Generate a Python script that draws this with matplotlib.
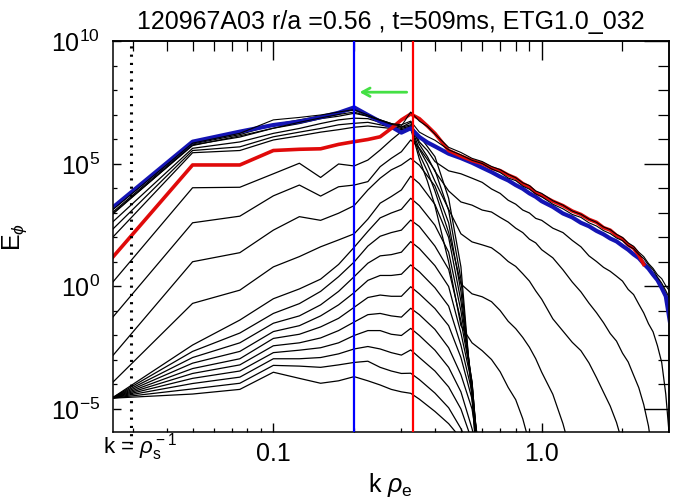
import numpy as np
import matplotlib
matplotlib.use("Agg")
import matplotlib.pyplot as plt
from matplotlib.ticker import FixedLocator, NullFormatter

plt.rcParams.update({
    "font.family": ["Liberation Sans", "DejaVu Sans"],
    "mathtext.fontset": "custom",
    "mathtext.rm": "Liberation Sans",
    "mathtext.it": "Liberation Sans:italic",
    "mathtext.bf": "Liberation Sans:bold",
    "axes.linewidth": 1.1,
})

nan = np.nan

# k rho_e grids (simulation modes at low k, sampled points at high k)
k_low = [0.025, 0.05, 0.075, 0.1, 0.125, 0.15, 0.175, 0.2, 0.225, 0.25, 0.275, 0.3, 0.325]
k_mid = [0.35, 0.4, 0.45, 0.5, 0.55, 0.6]
k_high = [0.35, 0.375, 0.4, 0.45, 0.5, 0.55, 0.6, 0.65, 0.7, 0.75, 0.8, 0.85, 0.9, 0.95,
          1.0, 1.1, 1.2, 1.3, 1.4, 1.5, 1.6, 1.7, 1.8, 1.9, 2.0, 2.1, 2.2, 2.3, 2.4, 2.5,
          2.6, 2.7, 2.8, 2.9, 3.0]

# log10(E_phi) of the early (growth phase) spectra, on k_low + k_mid
c00 = [-4.56, -4.39, -4.2, -3.5, -3.75, -3.95, -3.85, -3.68, -3.85, -4.02, -4.2, -4.3, -4.36,
       -4.6, -5.1, -5.6, -6.2, nan, nan]
c01 = [-4.56, -4.18, -3.95, -3.22, -3.25, -3.3, -3.2, -3.1, -3.05, -3.3, -3.45, -3.55, -3.54,
       -3.8, -4.35, -4.95, -5.8, -6.8, nan]
c02 = [-4.56, -3.96, -3.7, -2.95, -2.95, -2.9, -2.75, -2.55, -2.45, -2.55, -2.7, -2.8, -2.59,
       -2.9, -3.45, -4.1, -5.0, -6.3, nan]
c03 = [-4.56, -3.75, -3.45, -2.7, -2.6, -2.5, -2.3, -2.0, -1.8, -1.8, -1.95, -2.0, -1.71,
       -2.0, -2.6, -3.3, -4.3, -5.8, -7.5]
c04 = [-4.56, -3.55, -3.2, -2.42, -2.3, -2.1, -1.8, -1.45, -1.15, -1.1, -1.2, -1.25, -0.89,
       -1.15, -1.75, -2.5, -3.6, -5.0, -7.5]
c05 = [-4.56, -3.35, -2.95, -2.12, -1.95, -1.65, -1.3, -0.85, -0.45, -0.35, -0.4, -0.4, -0.01,
       -0.3, -0.9, -1.6, -2.9, -4.6, -7.5]
c06 = [-4.56, -3.13, -2.65, -1.84, -1.6, -1.2, -0.75, -0.25, 0.25, 0.45, 0.45, 0.5, 0.88,
       0.6, -0.05, -0.8, -2.4, -4.3, -8.0]
c07 = [-4.56, -2.9, -2.3, -1.5, -1.2, -0.75, -0.2, 0.4, 0.95, 1.25, 1.3, 1.4, 1.83,
       1.55, 0.85, 0.0, -1.9, -4.0, -8.5]
c08 = [-4.56, -2.65, -1.9, -1.1, -0.7, -0.2, 0.4, 1.0, 1.65, 2.05, 2.2, 2.3, 2.71,
       2.45, 1.65, 0.7, -1.4, -3.9, -9.0]
c09 = [-4.56, -2.39, -1.37, -0.5, -0.1, 0.3, 0.9, 1.6, 2.25, 2.8, 3.0, 3.15, 3.6,
       3.3, 2.5, 1.4, -1.0, -3.9, -9.0]
c10 = [-3.95, -0.69, -0.15, 0.8, 1.22, 1.62, 1.9, 2.15, 2.75, 3.4, 3.67, 3.94, 4.5,
       4.2, 3.35, 2.0, -0.6, -4.0, -9.5]
c11 = [-2.87, 1.01, 1.38, 2.3, 2.85, 2.7, 2.99, 3.3, 3.94, 4.42, 4.76, 4.96, 5.23,
       4.95, 4.1, 2.6, -0.2, -4.2, -10.0]
c12 = [-1.3, 2.6, 2.87, 3.7, 4.14, 3.69, 4.07, 4.14, 4.28, 4.89, 5.23, 5.5, 5.98,
       5.65, 4.75, 3.1, 0.3, -4.4, -10.0]
c13 = [0.13, 4.03, 4.05, 4.6, 5.03, 4.45, 5.0, 4.92, 5.16, 5.57, 5.98, 6.32, 6.52,
       6.15, 5.3, 3.6, 0.8, -4.6, -10.0]

# log10(E_phi) of the later spectra, on k_low + k_high
t5 = [1.97, 5.46, 5.55, 5.98, 6.15, 6.3, 6.4, 6.5, 6.55, 6.5, 6.45, 6.35, 6.45,
      5.2, 4.3, 3.3, 1.0, -1.6, -2.3, -2.62, -2.98, -3.48, -4.12, -4.62, -5.4, -6.4, nan,
      nan, nan, nan, nan, nan, nan, nan, nan, nan, nan, nan, nan, nan, nan, nan, nan,
      nan, nan, nan, nan, nan]
t4 = [2.3, 5.55, 5.7, 6.11, 6.3, 6.45, 6.6, 6.66, 6.7, 6.6, 6.5, 6.4, 6.5,
      5.4, 4.7, 3.9, 2.2, 0.1, -0.3, -0.42, -0.62, -0.98, -1.42, -1.72, -2.08, -2.48, -2.95,
      -3.5, -4.4, -5.6, -7.0, nan, nan, nan, nan, nan, nan, nan, nan, nan, nan, nan, nan,
      nan, nan, nan, nan, nan]
t3 = [2.6, 5.64, 5.9, 6.25, 6.45, 6.65, 6.8, 6.87, 6.85, 6.7, 6.55, 6.45, 6.55,
      5.6, 5.0, 4.3, 3.15, 2.15, 1.82, 1.7, 1.58, 1.32, 1.02, 0.82, 0.52, 0.22, -0.18,
      -0.52, -1.32, -1.82, -2.28, -2.62, -3.12, -3.72, -4.32, -4.88, -5.55, -6.4, nan, nan, nan,
      nan, nan, nan, nan, nan, nan, nan]
t2 = [2.92, 5.78, 6.1, 6.46, 6.65, 6.85, 6.95, 7.07, 6.95, 6.8, 6.65, 6.5, 6.6,
      5.8, 5.3, 4.7, 3.9, 3.45, 3.32, 3.12, 3.04, 2.82, 2.63, 2.38, 2.2, 1.93, 1.78,
      1.5, 1.17, 0.68, 0.18, -0.22, -0.68, -1.07, -1.48, -1.92, -2.23, -2.72, -3.08, -3.62,
      -4.13, -4.82, -5.7, -7.0, nan, nan, nan, nan]
t1 = [3.0, 5.82, 6.2, 6.6, 6.8, 6.95, 7.1, 7.2, 6.98, 6.78, 6.62, 6.5, 6.7,
      5.9, 5.55, 5.1, 4.72, 4.6, 4.42, 4.25, 3.98, 3.8, 3.52, 3.36, 3.12, 3.0, 2.78,
      2.7, 2.38, 2.2, 1.88, 1.62, 1.25, 1.02, 0.78, 0.62, 0.42, 0.22, -0.12, -0.33,
      -0.72, -1.08, -1.52, -1.85, -2.42, -3.1, -4.4, -6.3]
l1 = [3.1, 5.85, 6.25, 6.8, 6.9, 7.0, 7.12, 7.22, 7.0, 6.8, 6.65, 6.6, 6.75,
      6.3, 6.12, 5.97, 5.58, 5.37, 5.15, 5.02, 4.8, 4.65, 4.43, 4.32, 4.1, 3.97, 3.78,
      3.66, 3.36, 3.17, 2.94, 2.82, 2.6, 2.47, 2.28, 2.16, 1.98, 1.87, 1.66, 1.54, 1.31,
      1.14, 0.88, 0.68, 0.38, 0.14, -0.17, -0.5]
l2 = [2.95, 5.75, 6.15, 6.46, 6.7, 6.88, 7.02, 7.12, 6.95, 6.78, 6.62, 6.55, 7.12,
      6.75, 6.53, 6.22, 5.68, 5.47, 5.23, 5.1, 4.9, 4.77, 4.58, 4.44, 4.23, 4.12, 3.9,
      3.8, 3.5, 3.32, 3.08, 2.95, 2.75, 2.62, 2.43, 2.32, 2.13, 2.0, 1.78, 1.64, 1.4,
      1.22, 0.94, 0.74, 0.48, 0.32, 0.03, -0.2]
blue_spec = [3.19, 5.91, 6.32, 6.59, 6.73, 6.91, 7.09, 7.31, 7.0, 6.73, 6.52, 6.28, 6.46,
             6.1, 5.88, 5.72, 5.42, 5.24, 5.05, 4.85, 4.67, 4.48, 4.33, 4.14, 3.99, 3.8,
             3.66, 3.48, 3.25, 2.98, 2.82, 2.6, 2.46, 2.27, 2.13, 1.96, 1.84, 1.66, 1.5,
             1.31, 1.16, 0.93, 0.73, 0.48, 0.26, -0.06, -0.4, -1.4]
red_spec = [1.15, 4.96, 4.96, 5.55, 5.6, 5.62, 5.8, 5.91, 6.0, 6.11, 6.45, 6.8, 7.04,
            6.85, 6.55, 6.25, 5.55, 5.32, 5.14, 5.02, 4.83, 4.73, 4.55, 4.42, 4.2, 4.06,
            3.83, 3.72, 3.48, 3.3, 3.08, 2.94, 2.74, 2.62, 2.4, 2.3, 2.08, 1.94, 1.7,
            1.56, 1.28, 0.9, nan, nan, nan, nan, nan, nan]

early = [c00, c01, c02, c03, c04, c05, c06, c07, c08, c09, c10, c11, c12, c13]
late = [t5, t4, t3, t2, t1]

k_blue = 0.2
k_red = 0.33
k_rho_s = 0.0294
arrow_from, arrow_to, arrow_level = 0.314, 0.2095, 10**7.93

BLUE = "#1414b4"
RED = "#e00a0a"
GREEN = "#44e044"

fig = plt.figure(figsize=(6.73, 4.98), dpi=100)
ax = fig.add_axes([0.1675, 0.1325, 0.8265, 0.7842])

k_short = np.array(k_low + k_mid)
k_long = np.array(k_low + k_high)

for c in early:
    ax.plot(k_short, 10 ** np.array(c), color="black", lw=0.9)
for c in late:
    ax.plot(k_long, 10 ** np.array(c), color="black", lw=0.9)

ax.plot(k_long, 10 ** np.array(blue_spec), color=BLUE, lw=3.0, solid_joinstyle="round")
ax.plot(k_long, 10 ** np.array(red_spec), color=RED, lw=2.6, solid_joinstyle="round")
for c in [l1, l2]:
    ax.plot(k_long, 10 ** np.array(c), color="black", lw=0.8)

ax.axvline(k_blue, color="#0000ff", lw=1.6, zorder=5)
ax.axvline(k_red, color="#ff0000", lw=1.6, zorder=5)
ax.plot([k_rho_s, k_rho_s], [-0.03, 1.0], transform=ax.get_xaxis_transform(),
        color="black", lw=2.2, linestyle=(0, (0.7, 2.0)), clip_on=False)

ax.annotate("", xy=(arrow_to, arrow_level), xytext=(arrow_from, arrow_level),
            arrowprops=dict(arrowstyle="->,head_length=0.55,head_width=0.3",
                            color=GREEN, lw=2.0, shrinkA=0, shrinkB=0))

ax.set_xscale("log")
ax.set_yscale("log")
ax.set_xlim(0.0252, 2.98)
ax.set_ylim(10 ** -5.94, 1e10)

ax.set_xticks([0.1, 1.0], ["0.1", "1.0"])
ax.yaxis.set_major_locator(FixedLocator([1e-5, 1e0, 1e5, 1e10]))
ax.set_yticklabels([r"$10^{-5}$", r"$10^{0}$", r"$10^{5}$", r"$10^{10}$"])
ax.yaxis.set_minor_locator(FixedLocator([10.0 ** p for p in range(-5, 11)]))
ax.yaxis.set_minor_formatter(NullFormatter())
ax.xaxis.set_minor_formatter(NullFormatter())

ax.tick_params(axis="x", which="major", direction="in", length=6.5, width=1.0,
               labelsize=18, pad=7)
ax.tick_params(axis="x", which="minor", direction="in", length=3, width=0.9)
ax.tick_params(axis="y", which="major", direction="in", length=5.5, width=1.0,
               labelsize=18, pad=9)
ax.tick_params(axis="y", which="minor", direction="in", length=3, width=0.9)

top = ax.secondary_xaxis("top")
top.set_xticks([0.1, 1.0])
top.xaxis.set_minor_formatter(NullFormatter())
top.tick_params(which="major", direction="in", length=13.5, width=1.0, labeltop=False)
top.tick_params(which="minor", direction="in", length=7, width=0.9)
top.set_xticklabels([])

right = ax.secondary_yaxis("right")
right.yaxis.set_major_locator(FixedLocator([1e-5, 1e0, 1e5, 1e10]))
right.yaxis.set_minor_locator(FixedLocator([10.0 ** p for p in range(-5, 11)]))
right.yaxis.set_minor_formatter(NullFormatter())
right.tick_params(which="major", direction="in", length=18, width=1.0, labelright=False)
right.tick_params(which="minor", direction="in", length=8, width=0.9)

ax.set_title("120967A03 r/a =0.56 , t=509ms, ETG1.0_032", fontsize=18, pad=9)
ax.set_xlabel(r"k $\rho_{\rm e}$", fontsize=18, labelpad=4)
ax.set_ylabel(r"E$_{\phi}$", fontsize=18, labelpad=16)
fig.text(140 / 673, 1 - 447 / 498, r"k = $\rho_{\rm s}^{\rm -1}$", fontsize=16,
         ha="center", va="center")

fig.savefig("out.png", dpi=100)
